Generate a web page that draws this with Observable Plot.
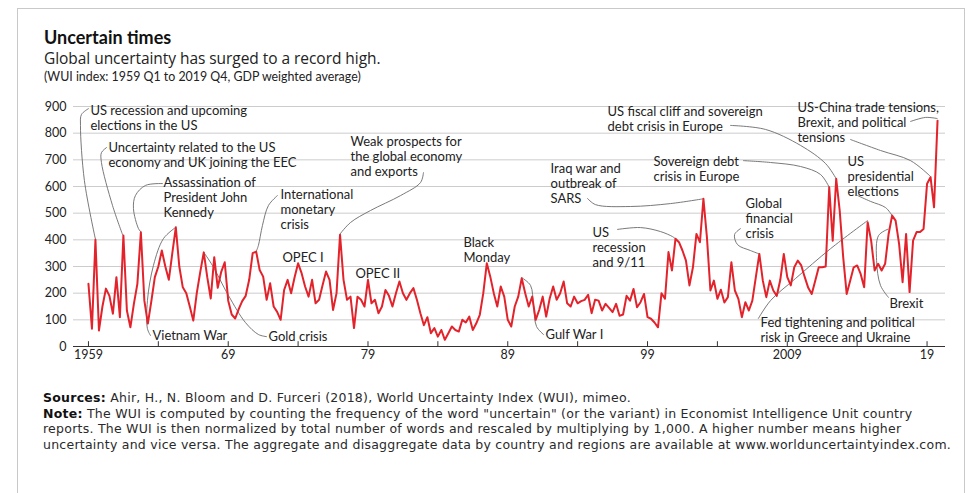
<!DOCTYPE html>
<html><head><meta charset="utf-8">
<script src="https://cdn.jsdelivr.net/npm/d3@7"></script>
<script src="https://cdn.jsdelivr.net/npm/@observablehq/plot@0.6"></script>
<style>
body{margin:0;background:#fff;width:970px;height:493px;overflow:hidden;position:relative;font-family:Lato,"Open Sans",sans-serif;color:#1e1e1e}
#frame{position:absolute;left:17px;top:8px;width:948px;height:500px;border:1px solid #c9c9c9;box-sizing:border-box}
.t{position:absolute;left:44px;line-height:1;white-space:nowrap}
#title{top:28px;font-size:18px;font-weight:700;color:#111}
#sub{top:50.8px;font-size:15.5px;color:#222;font-family:"Open Sans",sans-serif;letter-spacing:-0.05px}
#note0{top:70.5px;font-size:12.4px;color:#222}
#chart{position:absolute;left:0;top:92px}
#foot{position:absolute;left:43px;top:390px;font-family:"DejaVu Sans",sans-serif;font-size:12.5px;letter-spacing:0.25px;line-height:15.5px;color:#2a2a2a;white-space:nowrap}
#foot b{color:#111}
</style></head>
<body>
<div id="frame"></div>
<div class="t" id="title">Uncertain times</div>
<div class="t" id="sub">Global uncertainty has surged to a record high.</div>
<div class="t" id="note0">(WUI index: 1959 Q1 to 2019 Q4, GDP weighted average)</div>
<div id="chart"></div>
<div id="foot">
<div><b>Sources:</b> Ahir, H., N. Bloom and D. Furceri (2018), World Uncertainty Index (WUI), mimeo.</div>
<div><b>Note:</b> The WUI is computed by counting the frequency of the word "uncertain" (or the variant) in Economist Intelligence Unit country</div>
<div>reports. The WUI is then normalized by total number of words and rescaled by multiplying by 1,000. A higher number means higher</div>
<div>uncertainty and vice versa. The aggregate and disaggregate data by country and regions are available at www.worlduncertaintyindex.com.</div>
</div>
<script>
// Quarterly WUI, 1959 Q1 .. 2019 Q4
const startYear = 1959;
const wui = [
 235, 67, 400, 60, 150, 217, 190, 123, 260, 110,
 416, 135, 72, 160, 235, 428, 172, 86, 170, 260,
 300, 360, 300, 250, 350, 447, 300, 222, 200, 150,
 97, 200, 280, 353, 260, 180, 335, 220, 280, 316,
 172, 120, 105, 140, 170, 190, 250, 350, 356, 287,
 262, 175, 237, 150, 130, 100, 212, 250, 200, 260,
 312, 275, 225, 187, 250, 162, 175, 230, 281, 250,
 137, 200, 419, 250, 175, 187, 69, 187, 175, 150,
 250, 162, 175, 125, 150, 212, 190, 150, 200, 244,
 200, 175, 200, 219, 175, 125, 80, 110, 50, 69,
 37, 62, 25, 50, 75, 62, 56, 100, 90, 112,
 62, 87, 119, 200, 312, 262, 200, 150, 225, 187,
 100, 75, 150, 187, 256, 200, 150, 187, 100, 137,
 187, 112, 180, 225, 175, 200, 244, 162, 150, 187,
 162, 170, 175, 194, 125, 175, 172, 135, 160, 145,
 129, 160, 115, 120, 190, 172, 216, 147, 166, 197,
 110, 104, 90, 72, 200, 179, 354, 285, 404, 391,
 360, 322, 229, 297, 422, 391, 554, 410, 210, 247,
 179, 213, 165, 185, 316, 210, 179, 110, 166, 135,
 172, 260, 347, 247, 185, 247, 210, 190, 250, 347,
 260, 229, 297, 322, 304, 260, 220, 197, 247, 297,
 297, 300, 597, 397, 629, 510, 335, 197, 247, 297,
 304, 272, 222, 466, 397, 285, 310, 285, 310, 422,
 491, 472, 385, 241, 422, 204, 397, 429, 429, 441,
 610, 635, 522, 847
];
const majorTicks = [1959, 1969, 1979, 1989, 1999, 2009, 2019];
const majorLabels = ["1959", "69", "79", "89", "99", "2009", "19"];
const minorTicks = [1964, 1974, 1984, 1994, 2004, 2014];
const yTicks = [0, 100, 200, 300, 400, 500, 600, 700, 800, 900];

// Annotations (text, anchor in data units)
const annoText = [
 "US recession and upcoming\nelections in the US",
 "Uncertainty related to the US\neconomy and UK joining the EEC",
 "Assassination of\nPresident John\nKennedy",
 "Vietnam War",
 "Gold crisis",
 "International\nmonetary\ncrisis",
 "OPEC I",
 "Weak prospects for\nthe global economy\nand exports",
 "OPEC II",
 "Black\nMonday",
 "Gulf War I",
 "US\nrecession\nand 9/11",
 "Iraq war and\noutbreak of\nSARS",
 "Sovereign debt\ncrisis in Europe",
 "US fiscal cliff and sovereign\ndebt crisis in Europe",
 "Global\nfinancial\ncrisis",
 "US\npresidential\nelections",
 "US-China trade tensions,\nBrexit, and political\ntensions",
 "Brexit",
 "Fed tightening and political\nrisk in Greece and Ukraine"
];
const annoX = [1959.14, 1960.43, 1964.37, 1963.58, 1971.88, 1972.74, 1972.88, 1977.75, 1978.1, 1985.83,
               1991.7, 1995.06, 1992.06, 1999.43, 1996.14, 2006.01, 2013.31, 2009.73, 2016.32, 2007.09];
const annoY = [859, 718, 559, 41, 37.5, 516, 334, 712, 274, 362,
               45, 373, 613, 666, 855, 480, 637.5, 840, 161, 62];

// Leader lines (data units)
const leaders = [
 [[1959.0,892],[1958.5,870],[1958.43,829],[1958.71,622],[1959.5,402]],
 [[1960.29,746],[1959.93,727],[1959.93,690],[1960.72,529],[1961.45,418]],
 [[1964.3,611],[1963.08,604],[1962.36,566],[1962.22,517],[1962.58,442],[1962.75,430]],
 [[1963.44,41],[1963.22,67],[1963.22,172],[1963.65,304],[1964.37,405],[1965.25,447]],
 [[1971.74,37],[1971.16,45],[1970.23,90],[1969.02,191],[1967.87,304],[1967.25,353]],
 [[1972.52,566],[1971.88,529],[1971.45,454],[1971.16,379],[1971.0,356]],
 [[1982.97,652],[1982.76,615],[1981.33,566],[1979.18,510],[1977.75,465],[1977.0,422]],
 [[1991.56,45],[1991.06,75],[1990.84,154],[1990.63,229],[1990.0,258]],
 [[1996.85,439],[1998.5,446],[1999.93,431],[2000.79,412],[2001.0,404]],
 [[1994.71,555],[1995.28,532],[1997.78,525],[2000.65,536],[2003.0,554]],
 [[2005.86,697],[2007.8,690],[2009.95,675],[2011.38,645],[2012.0,597]],
 [[2004.94,829],[2007.44,814],[2009.95,754],[2011.74,686],[2012.5,629]],
 [[2005.65,442],[2005.23,420],[2005.44,382],[2006.36,360],[2007.0,347]],
 [[2014.03,566],[2014.96,544],[2016.03,521],[2016.5,491]],
 [[2017.82,844],[2018.89,859],[2019.72,855]],
 [[2013.53,776],[2015.67,735],[2017.82,697],[2019.2,640]],
 [[2016.24,184],[2015.67,229],[2015.39,322],[2015.53,416],[2016.2,440]],
 [[2006.93,105],[2007.8,172],[2009.59,255],[2012.1,367],[2014.74,472]]
];

const data = wui.map((v, i) => ({t: startYear + i / 4, v}));
const annos = annoText.map((text, i) => ({text, t: annoX[i], v: annoY[i]}));
const leaderPts = leaders.flatMap((pts, k) => pts.map(([t, v]) => ({k, t, v})));

const chart = Plot.plot({
  width: 970, height: 275,
  marginTop: 14, marginBottom: 21, marginLeft: 73, marginRight: 25,
  x: {domain: [1957.93, 2020.32]},
  y: {domain: [0, 900]},
  style: {fontFamily: "Lato, sans-serif", fontSize: "12px", color: "#222", background: "transparent", overflow: "visible"},
  marks: [
    Plot.ruleY(yTicks.filter(d => d > 0), {stroke: "#cccccc", strokeWidth: 1}),
    Plot.axisY({ticks: yTicks, tickSize: 0, tickPadding: 7, fontSize: 12.5, label: null}),
    Plot.axisX(majorTicks, {tickSize: 0, tickPadding: 4, fontSize: 12.5, label: null,
      tickFormat: d => majorLabels[majorTicks.indexOf(d)]}),
    Plot.ruleY([0], {stroke: "#333", strokeWidth: 1}),
    Plot.ruleX([...majorTicks, ...minorTicks], {y1: 0, y2: 18, stroke: "#333", strokeWidth: 1}),
    Plot.line(leaderPts, {x: "t", y: "v", z: "k", stroke: "#6a6a6a", strokeWidth: 0.9, curve: "catmull-rom"}),
    Plot.line(data, {x: "t", y: "v", stroke: "#e3232b", strokeWidth: 2, strokeLinejoin: "round"}),
    Plot.text(annos, {x: "t", y: "v", text: "text", textAnchor: "start", lineAnchor: "middle",
      lineHeight: 1.15, fontSize: 13, fill: "#222"})
  ]
});
document.getElementById("chart").appendChild(chart);
</script>
</body></html>
